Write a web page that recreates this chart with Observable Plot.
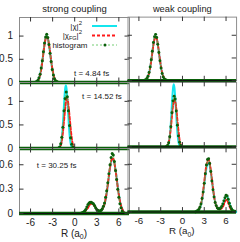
<!DOCTYPE html>
<html><head><meta charset="utf-8">
<script src="https://cdn.jsdelivr.net/npm/d3@7"></script>
<script src="https://cdn.jsdelivr.net/npm/@observablehq/plot@0.6"></script>
<style>
html,body{margin:0;padding:0;background:#fff;overflow:hidden}
#chart{position:relative;width:240px;height:242px;font-family:"Liberation Sans",Arial,sans-serif}
#chart>div{position:absolute}
</style></head><body><div id="chart"></div>
<script>
// ---- text ----
const couplings = ["strong coupling", "weak coupling"];
const times = ["t = 4.84 fs", "t = 14.52 fs", "t = 30.25 fs"];
const noteR = [-0.1, 1.0, -5.15];
const noteV = [0.2, 1.1, 0.59];
const xTicks = [-6, -3, 0, 3, 6];
const yTicksRow = [[0, 0.5, 1], [0, 0.5, 1], [0, 0.3, 0.6]];
const yDomainRow = [[0, 1.4], [0, 1.4], [0, 0.8]];
const xDomain = [-7.5, 7.45];

// ---- row 1: t = 4.84 fs ----
const rS1 = [-5.6,-5.4,-5.2,-5.0,-4.8,-4.6,-4.4,-4.2,-4.0,-3.8,-3.6,-3.4,-3.2,-3.0,-2.8,-2.6,-2.4,-2.2,-2.0];
const chiS1 = [0,0,0.01,0.04,0.11,0.25,0.46,0.71,0.92,1.0,0.92,0.71,0.46,0.25,0.11,0.04,0.01,0,0];
const fgS1  = [0,0,0.01,0.04,0.11,0.24,0.45,0.70,0.91,0.99,0.92,0.72,0.47,0.26,0.12,0.05,0.02,0,0];
const hrS1 = [-5.3,-5.15,-5.0,-4.85,-4.7,-4.55,-4.4,-4.25,-4.1,-3.95,-3.8,-3.65,-3.5,-3.35,-3.2,-3.05,-2.9,-2.75,-2.6,-2.45,-2.3];
const hS1  = [0.01,0.02,0.05,0.10,0.18,0.31,0.47,0.66,0.85,0.98,1.04,0.97,0.82,0.63,0.45,0.28,0.16,0.08,0.04,0.02,0.01];

const rW1 = [-5.5,-5.3,-5.1,-4.9,-4.7,-4.5,-4.3,-4.1,-3.9,-3.7,-3.5,-3.3,-3.1,-2.9,-2.7,-2.5,-2.3,-2.1,-1.9];
const chiW1 = [0,0,0.01,0.04,0.11,0.24,0.45,0.69,0.90,0.98,0.90,0.69,0.45,0.24,0.11,0.04,0.01,0,0];
const fgW1  = [0,0,0.01,0.04,0.11,0.24,0.44,0.68,0.88,0.97,0.90,0.70,0.46,0.25,0.12,0.05,0.02,0,0];
const hrW1 = [-5.2,-5.05,-4.9,-4.75,-4.6,-4.45,-4.3,-4.15,-4.0,-3.85,-3.7,-3.55,-3.4,-3.25,-3.1,-2.95,-2.8,-2.65,-2.5,-2.35,-2.2];
const hW1  = [0.01,0.02,0.05,0.10,0.18,0.30,0.46,0.65,0.84,0.97,1.02,0.95,0.80,0.62,0.44,0.28,0.16,0.08,0.04,0.02,0.01];

// ---- row 2: t = 14.52 fs ----
const rS2 = [-2.3,-2.2,-2.1,-2.0,-1.9,-1.8,-1.7,-1.6,-1.5,-1.4,-1.3,-1.2,-1.1,-1.0,-0.9,-0.8,-0.7,-0.6,-0.5,-0.4,-0.3,-0.2,-0.1,0.0,0.1];
const chiS2 = [0,0,0.01,0.03,0.07,0.16,0.30,0.52,0.79,1.06,1.26,1.34,1.26,1.06,0.79,0.52,0.30,0.16,0.07,0.03,0.01,0,0,0,0];
const fgS2  = [0,0,0.01,0.03,0.06,0.12,0.22,0.35,0.51,0.68,0.84,0.98,1.05,1.05,0.98,0.84,0.68,0.51,0.35,0.22,0.12,0.06,0.02,0.01,0];
const hrS2 = [-2.2,-2.05,-1.9,-1.75,-1.6,-1.45,-1.3,-1.15,-1.0,-0.85,-0.7,-0.55,-0.4,-0.25,-0.1];
const hS2  = [0.01,0.03,0.10,0.24,0.45,0.80,1.06,1.20,1.10,0.80,0.49,0.23,0.09,0.03,0.01];

const rW2 = [-2.3,-2.2,-2.1,-2.0,-1.9,-1.8,-1.7,-1.6,-1.5,-1.4,-1.3,-1.2,-1.1,-1.0,-0.9,-0.8,-0.7,-0.6,-0.5,-0.4,-0.3,-0.2,-0.1,0.0,0.1];
const chiW2 = [0,0,0.01,0.03,0.07,0.16,0.31,0.53,0.80,1.07,1.28,1.36,1.28,1.07,0.80,0.53,0.31,0.16,0.07,0.03,0.01,0,0,0,0];
const fgW2  = [0,0.01,0.03,0.05,0.10,0.17,0.28,0.42,0.58,0.75,0.90,1.00,1.04,1.00,0.90,0.75,0.58,0.42,0.28,0.15,0.08,0.03,0.01,0,0];
const hrW2 = [-2.2,-2.05,-1.9,-1.75,-1.6,-1.45,-1.3,-1.15,-1.0,-0.85,-0.7,-0.55,-0.4,-0.25,-0.1];
const hW2  = [0.01,0.03,0.09,0.22,0.44,0.74,1.00,1.10,1.04,0.78,0.47,0.24,0.10,0.03,0.01];

// ---- row 3: t = 30.25 fs ----
const rS3 = [0.6,0.8,1.0,1.2,1.4,1.6,1.8,2.0,2.2,2.4,2.6,2.8,3.0,3.2,3.4,3.6,3.8,4.0,4.2,4.4,4.6,4.8,5.0,5.2,5.4,5.6,5.8,6.0,6.2,6.4,6.6,6.8,7.0];
const chiS3 = [0,0,0.01,0.01,0.03,0.05,0.08,0.11,0.13,0.13,0.11,0.08,0.05,0.04,0.03,0.04,0.06,0.10,0.17,0.28,0.42,0.56,0.65,0.67,0.62,0.51,0.37,0.24,0.13,0.07,0.03,0.01,0];
const fgS3  = [0,0,0.01,0.01,0.02,0.05,0.07,0.10,0.12,0.12,0.10,0.08,0.05,0.04,0.03,0.04,0.06,0.10,0.18,0.29,0.43,0.57,0.66,0.68,0.62,0.50,0.36,0.23,0.13,0.07,0.03,0.01,0];
const hrS3 = [0.75,0.9,1.05,1.2,1.35,1.5,1.65,1.8,1.95,2.1,2.25,2.4,2.55,2.7,2.85,3.0,3.15,3.3,3.45,3.6,3.75,3.9,4.05,4.2,4.35,4.5,4.65,4.8,4.95,5.1,5.25,5.4,5.55,5.7,5.85,6.0,6.15,6.3,6.45,6.6,6.75];
const hS3  = [0,0.005,0.01,0.02,0.03,0.05,0.08,0.11,0.13,0.14,0.14,0.13,0.12,0.10,0.07,0.05,0.04,0.03,0.03,0.04,0.06,0.09,0.13,0.20,0.28,0.38,0.49,0.60,0.69,0.74,0.72,0.64,0.53,0.42,0.30,0.20,0.12,0.07,0.03,0.01,0];

const rW3 = [1.8,2.0,2.2,2.4,2.6,2.8,3.0,3.2,3.4,3.6,3.8,4.0,4.2,4.4,4.6,4.8,5.0,5.2,5.4,5.6,5.8,6.0,6.2,6.4,6.6,6.8,7.0,7.2,7.4];
const chiW3 = [0,0.01,0.02,0.05,0.11,0.21,0.35,0.49,0.59,0.62,0.56,0.44,0.29,0.17,0.09,0.05,0.04,0.045,0.065,0.10,0.16,0.20,0.19,0.13,0.07,0.03,0.015,0.01,0];
const fgW3  = [0,0.01,0.02,0.06,0.12,0.23,0.38,0.53,0.63,0.66,0.59,0.45,0.30,0.17,0.09,0.05,0.035,0.035,0.045,0.07,0.12,0.15,0.14,0.09,0.045,0.02,0.01,0,0];
const hrW3 = [1.8,1.95,2.1,2.25,2.4,2.55,2.7,2.85,3.0,3.15,3.3,3.45,3.6,3.75,3.9,4.05,4.2,4.35,4.5,4.65,4.8,4.95,5.1,5.25,5.4,5.55,5.7,5.85,6.0,6.15,6.3,6.45,6.6,6.75,6.9,7.05,7.2];
const hW3  = [0,0.01,0.02,0.03,0.06,0.10,0.17,0.25,0.36,0.48,0.59,0.66,0.67,0.61,0.51,0.39,0.28,0.19,0.12,0.08,0.05,0.04,0.04,0.05,0.07,0.10,0.14,0.18,0.21,0.20,0.16,0.11,0.07,0.04,0.02,0.01,0.01];

const legendLabels = ["|χ|", "|χ", "histogram"];
const xLabel = ["R (a", "0", ")"];

// ---- layout ----
const colLeft = [19, 128], colRight = [129, 239];
const rowTop = [17, 82, 148], rowBottom = [82, 148, 213];
const C_EXACT = "#14e6ee", C_FG = "#ff1a1a", C_HLINE = "#4fc04f", C_HDOT = "#0a5f0a", C_TEXT = "#222";

const panels = [
  {row:0,col:0,r:rS1,chi:chiS1,fg:fgS1,hr:hrS1,h:hS1},
  {row:0,col:1,r:rW1,chi:chiW1,fg:fgW1,hr:hrW1,h:hW1},
  {row:1,col:0,r:rS2,chi:chiS2,fg:fgS2,hr:hrS2,h:hS2},
  {row:1,col:1,r:rW2,chi:chiW2,fg:fgW2,hr:hrW2,h:hW2},
  {row:2,col:0,r:rS3,chi:chiS3,fg:fgS3,hr:hrS3,h:hS3},
  {row:2,col:1,r:rW3,chi:chiW3,fg:fgW3,hr:hrW3,h:hW3}
];

const chart = document.getElementById("chart");
const pts = (xs, ys) => xs.map((x, i) => ({x, y: ys[i]}));

for (const p of panels) {
  const {row, col} = p;
  const mL = 22, mR = 4, mT = row === 0 ? 17 : 4, mB = row === 2 ? 30 : 4;
  const W = colRight[col] - colLeft[col], H = rowBottom[row] - rowTop[row];
  const yT = yTicksRow[row];
  const marks = [
    Plot.frame({stroke: "#8c8c8c"}),
    Plot.line(pts(p.r, p.chi), {x: "x", y: "y", stroke: C_EXACT, strokeWidth: 2, curve: "monotone-x"}),
    Plot.line(pts(p.r, p.fg), {x: "x", y: "y", stroke: C_FG, strokeWidth: 2, strokeDasharray: "3,2", curve: "monotone-x"}),
    Plot.line(pts(p.hr, p.h), {x: "x", y: "y", stroke: C_HLINE, strokeWidth: 0.8, strokeDasharray: "2,2"}),
    Plot.dot(pts(p.hr, p.h), {x: "x", y: "y", fill: C_HDOT, r: 1.5}),
    Plot.ruleY([0], {stroke: C_HDOT, strokeWidth: 3.5}),
    Plot.ruleY([0], {stroke: "#111", strokeWidth: 1.2}),
    Plot.tickX(xTicks, {x: d => d, stroke: "#333", insetTop: H - 4.5}),
    Plot.tickX(xTicks, {x: d => d, stroke: "#333", insetBottom: H - 4.5}),
    Plot.tickY(yT, {y: d => d, stroke: "#333", insetRight: W - 4.5}),
    Plot.tickY(yT, {y: d => d, stroke: "#333", insetLeft: W - 4.5})
  ];
  if (col === 0) {
    marks.push(Plot.text([times[row]], {x: () => noteR[row], y: () => noteV[row], textAnchor: "start", fontSize: 8, fill: C_TEXT}));
  }
  if (row === 0) {
    marks.push(Plot.text([couplings[col]], {frameAnchor: "top", dy: -12, fontSize: 9.5, fill: C_TEXT}));
  }
  const svg = Plot.plot({
    width: mL + W + mR, height: mT + H + mB,
    marginLeft: mL, marginRight: mR, marginTop: mT, marginBottom: mB,
    style: {background: "transparent", overflow: "visible", fontFamily: "'Liberation Sans', Arial, sans-serif", fontSize: "10px", color: C_TEXT},
    x: {domain: xDomain, ticks: xTicks, tickFormat: d => String(d), tickSize: 0, tickPadding: 5, label: null, axis: row === 2 ? "bottom" : null},
    y: {domain: yDomainRow[row], ticks: yT, tickFormat: d => String(d), tickSize: 0, tickPadding: 6.5, label: null, axis: col === 0 ? "left" : null},
    marks
  });
  const s = d3.select(svg);
  if (row === 2) {
    const t = s.append("text").attr("x", mL + W / 2).attr("y", mT + H + 23.5)
      .attr("text-anchor", "middle").attr("font-size", 10).attr("fill", C_TEXT);
    t.append("tspan").text(xLabel[0]);
    t.append("tspan").attr("font-size", 7).attr("dy", 2.5).text(xLabel[1]);
    t.append("tspan").attr("dy", -2.5).text(xLabel[2]);
  }
  if (row === 0 && col === 0) {
    // legend (svg local = page + (mL - colLeft), page y)
    const ox = mL - colLeft[col];
    const g = s.append("g").attr("font-size", 8).attr("fill", C_TEXT);
    const ly = [26, 35.5, 45];
    g.append("line").attr("x1", 92 + ox).attr("x2", 117 + ox).attr("y1", ly[0]).attr("y2", ly[0]).attr("stroke", C_EXACT).attr("stroke-width", 2);
    g.append("line").attr("x1", 92 + ox).attr("x2", 117 + ox).attr("y1", ly[1]).attr("y2", ly[1]).attr("stroke", C_FG).attr("stroke-width", 2).attr("stroke-dasharray", "3,2");
    g.append("line").attr("x1", 92 + ox).attr("x2", 117 + ox).attr("y1", ly[2]).attr("y2", ly[2]).attr("stroke", C_HLINE).attr("stroke-width", 0.8).attr("stroke-dasharray", "2,2");
    g.append("circle").attr("cx", 105 + ox).attr("cy", ly[2]).attr("r", 1.5).attr("fill", C_HDOT);
    const t1 = g.append("text").attr("x", 82 + ox).attr("y", ly[0] + 3).attr("text-anchor", "end");
    t1.append("tspan").text(legendLabels[0]);
    t1.append("tspan").attr("font-size", 6).attr("dy", -4).text("2");
    const t2 = g.append("text").attr("x", 82 + ox).attr("y", ly[1] + 2.5).attr("text-anchor", "end");
    t2.append("tspan").text(legendLabels[1]);
    t2.append("tspan").attr("font-size", 5.5).attr("dy", 2).text("FG");
    t2.append("tspan").attr("dy", -2).text("|");
    t2.append("tspan").attr("font-size", 6).attr("dy", -4.5).text("2");
    g.append("text").attr("x", 87.5 + ox).attr("y", ly[2] + 3).attr("text-anchor", "end").text(legendLabels[2]);
  }
  const holder = document.createElement("div");
  holder.style.left = (colLeft[col] - mL) + "px";
  holder.style.top = (rowTop[row] - mT) + "px";
  holder.appendChild(svg);
  chart.appendChild(holder);
}
</script></body></html>
